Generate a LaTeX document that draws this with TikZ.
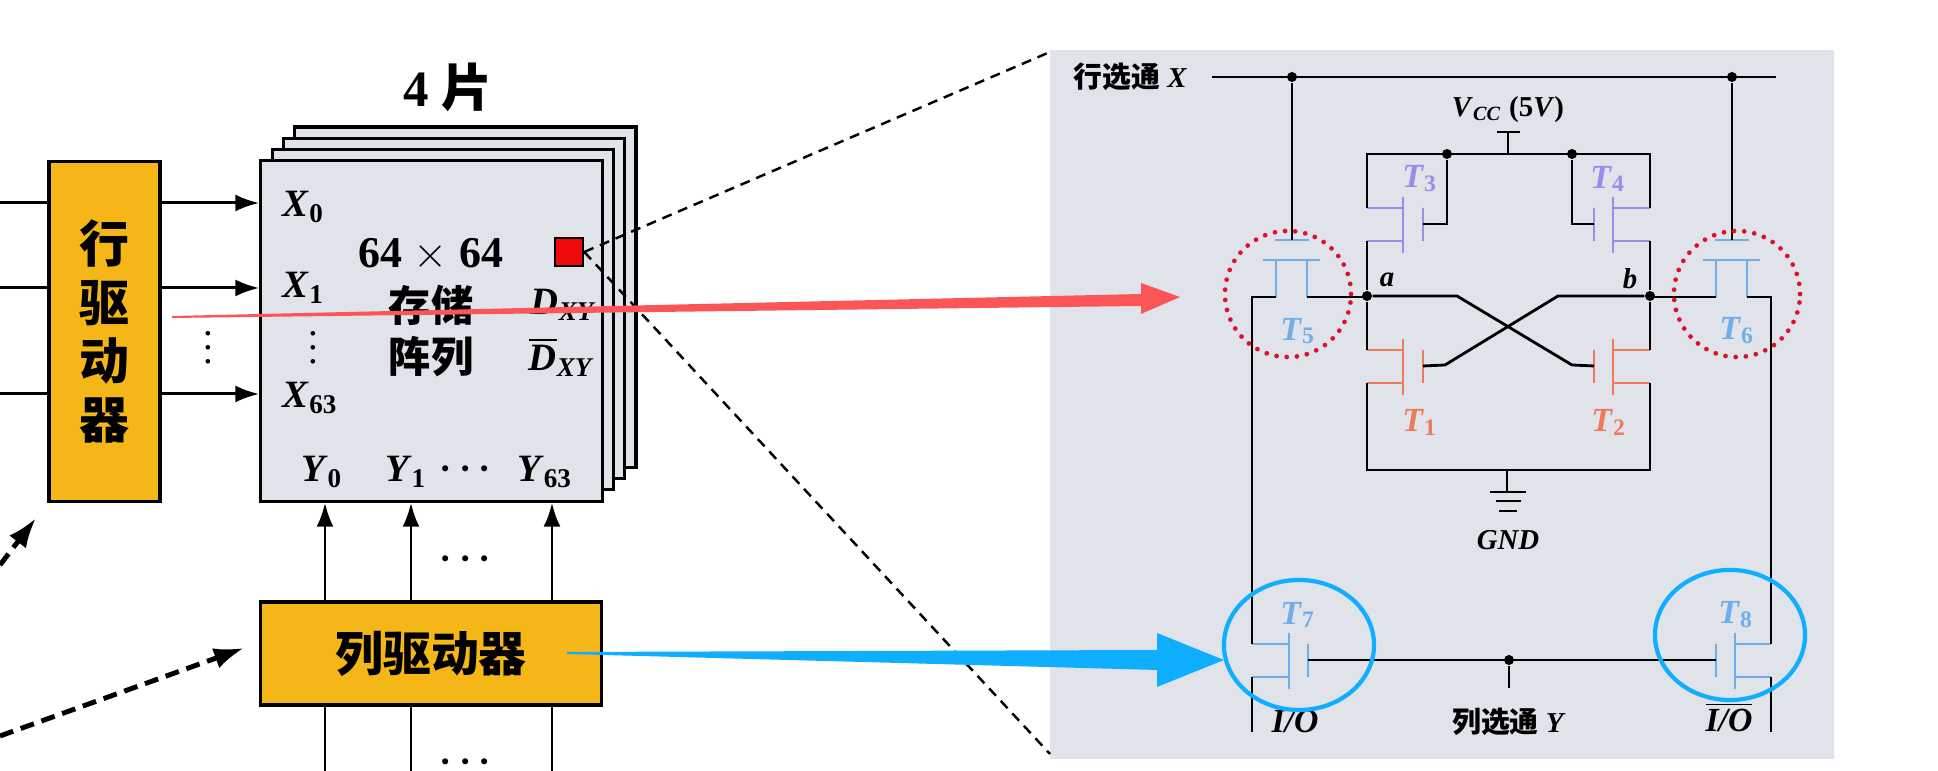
\documentclass[tikz,border=0pt]{standalone}
\usepackage{fix-cm}
\usepackage{amsmath}
\usepackage{fontspec}
\usepackage{tikz}
\usetikzlibrary{arrows.meta,shapes.geometric}
\setmainfont{Liberation Serif}
\newfontfamily\cjk{Noto Sans CJK SC}
\newcommand{\bi}[1]{\textbf{\textit{#1}}}
\newcommand{\lbl}[2]{\bi{#1}$_{\text{\textbf{#2}}}$}
\newcommand{\lbi}[2]{\bi{#1}$_{\text{\bi{#2}}}$}
\definecolor{panelgray}{HTML}{E1E3EA}
\definecolor{drvyellow}{HTML}{F5B718}
\definecolor{redcell}{HTML}{EE0A0A}
\definecolor{arrowred}{HTML}{FC5558}
\definecolor{arrowblue}{HTML}{10AEFF}
\definecolor{ringred}{HTML}{E0102A}
\definecolor{fetpurple}{HTML}{9B8BEA}
\definecolor{fetorange}{HTML}{EF7A5A}
\definecolor{fetblue}{HTML}{6FAEE8}
\tikzset{
	sheetbox/.style = {draw,fill=panelgray,line width=0.9pt,minimum width=3.41cm,minimum height=3.4cm,inner sep=0pt},
	drvbox/.style = {draw,fill=drvyellow,line width=0.9pt,inner sep=0pt,align=center},
	bus/.style = {line width=0.85pt},
	busarrow/.style = {line width=0.85pt,-{Latex[length=2.4mm,width=1.7mm]}},
	selarrow/.style = {line width=1.4pt,dash pattern=on 1.4mm off 0.8mm,-{Latex[length=3mm,width=2.1mm]}},
	zoomline/.style = {line width=0.7pt,dash pattern=on 1mm off 0.7mm},
	wire/.style = {line width=0.8pt},
	fet/.style = {line width=0.8pt},
	jdot/.style = {circle,fill,inner sep=0pt,minimum size=0.1cm},
	redring/.style = {circle,draw=ringred,line width=1.35pt,line cap=round,dash pattern=on 0pt off 2.9pt,minimum size=1.26cm,inner sep=0pt},
	bluering/.style = {ellipse,draw=arrowblue,line width=1.2pt,inner sep=0pt},
	arrtext/.style = {font=\fontsize{11}{13}\selectfont,inner sep=0pt},
	cirtext/.style = {font=\fontsize{8.2}{10}\selectfont,inner sep=0pt},
	iotext/.style = {font=\fontsize{9.6}{11}\selectfont,inner sep=0pt},
	fetlabel/.style = {font=\fontsize{9.6}{12}\selectfont,inner sep=0pt}
}
\begin{document}
\begin{tikzpicture}[x=0.01cm,y=-0.01cm]
	\useasboundingbox (0,0) rectangle (1938,771);
	% left part: drivers and the four sheets
	\foreach \d in {3,2,1}
		\node[sheetbox] (sheet\d) at ({431.5+11.3*\d},{331-11.3*\d}) {};
	\node[sheetbox] (array) at (431.5,331) {};
	\node[drvbox,minimum width=1.11cm,minimum height=3.39cm,font=\cjk\bfseries\fontsize{14.2}{16.6}\selectfont] (rowdrv) at (104.5,331.5) {行\\驱\\动\\器};
	\node[drvbox,minimum width=3.4cm,minimum height=1.03cm,font=\cjk\bfseries\fontsize{13.6}{15}\selectfont] (coldrv) at (431,653.5) {列驱动器};
	\node[font=\fontsize{14.5}{16}\selectfont,inner sep=0pt] (sheets) at (448,87) {\textbf{4} {\cjk\bfseries 片}};
	\foreach \y/\n in {203/0,288/1,394/63} {
		\draw[bus] (0,\y) -- (rowdrv.west |- 0,\y);
		\draw[busarrow] (rowdrv.east |- 0,\y) -- (array.west |- 0,\y);
	}
	\foreach \y/\n in {207/0,288/1,398/63}
		\node[arrtext,anchor=west] (xlab\n) at (282,\y) {\lbl{X}{\n}};
	\foreach \x/\n in {325/0,411/1,552/63} {
		\draw[busarrow] (coldrv.north -| \x,0) -- (array.south -| \x,0);
		\draw[bus] (coldrv.south -| \x,0) -- (\x,771);
	}
	\foreach \x/\n in {322/0,406/1,545/63}
		\node[arrtext] (ylab\n) at (\x,472) {\lbl{Y}{\n}};
	\node[arrtext] (vdotsa) at (208,337) {$\boldsymbol{\vdots}$};
	\node[arrtext] (vdotsb) at (313,337) {$\boldsymbol{\vdots}$};
	\node[arrtext] (cdotsa) at (469,469) {$\boldsymbol{\cdots}$};
	\node[arrtext] (cdotsb) at (469,559) {$\boldsymbol{\cdots}$};
	\node[arrtext] (cdotsc) at (469,762) {$\boldsymbol{\cdots}$};
	\node[font=\fontsize{12.5}{14}\selectfont,inner sep=0pt] (size) at (431,255) {\textbf{64} $\times$ \textbf{64}};
	\node[inner sep=0pt,align=center,font=\cjk\bfseries\fontsize{12}{14.7}\selectfont] (arrlab) at (431,331) {存储\\阵列};
	\node[arrtext] (dxy) at (564,305) {\lbi{D}{XY}};
	\node[arrtext] (dbar) at (562,357) {$\overline{\text{\bi{D}}}_{\text{\bi{XY}}}$};
	\node[draw,fill=redcell,line width=0.7pt,minimum width=0.28cm,minimum height=0.28cm,inner sep=0pt] (cell) at (569,252) {};
	\coordinate (sela) at (0,736);
	\coordinate (selb) at (0,565);
	\draw[selarrow] (sela) -- (244,648);
	\draw[selarrow] (selb) -- (36,518);
	% right part: the memory cell
	\fill[panelgray] (1050,50) rectangle (1834,759);
	\coordinate (pa) at (1050,52);
	\coordinate (pb) at (1050,754);
	\draw[zoomline] (cell.east) -- (pa);
	\draw[zoomline] (cell.east) -- (pb);
	\coordinate (xs) at (1212,77);
	\coordinate (xe) at (1776,77);
	\node[jdot] (jxl) at (1292,77) {};
	\node[jdot] (jxr) at (1732,77) {};
	\node[jdot] (jtl) at (1447,154) {};
	\node[jdot] (jtr) at (1572,154) {};
	\node[jdot] (ja) at (1367,296) {};
	\node[jdot] (jb) at (1650,296) {};
	\node[jdot] (jy) at (1509,660) {};
	% n/gate x/channel x/rail x/top y/colour
	\foreach \n/\g/\c/\s/\y/\col in {3/1423/1403/1367/208/fetpurple,1/1423/1403/1367/350/fetorange,
		4/1594/1613/1650/208/fetpurple,2/1594/1613/1650/350/fetorange,
		7/1308/1289/1252/644/fetblue,8/1716/1735/1771/644/fetblue} {
		\draw[fet,\col] (\c,\y-11) -- (\c,\y+45);
		\draw[fet,\col] (\g,\y) -- (\g,\y+33);
		\draw[fet,\col] (\s,\y) -- (\c,\y);
		\draw[fet,\col] (\s,\y+33) -- (\c,\y+33);
		\coordinate (s\n) at (\s,\y);
		\coordinate (d\n) at (\s,\y+33);
		\coordinate (g\n) at (\g,\y+16);
	}
	\foreach \n/\c in {5/1292,6/1732} {
		\draw[fet,fetblue] (\c-17,240) -- (\c+17,240);
		\draw[fet,fetblue] (\c-29,260) -- (\c+28,260);
		\draw[fet,fetblue] (\c-16,260) -- (\c-16,297);
		\draw[fet,fetblue] (\c+15,260) -- (\c+15,297);
		\coordinate (gt\n) at (\c,240);
		\coordinate (l\n) at (\c-16,297);
		\coordinate (r\n) at (\c+15,297);
	}
	\coordinate (tl) at (1367,154);
	\coordinate (tr) at (1650,154);
	\coordinate (bl) at (1367,470);
	\coordinate (br) at (1650,470);
	\coordinate (vtop) at (1508,132);
	\coordinate (vmid) at (1508,154);
	\coordinate (gmid) at (1507,470);
	\coordinate (gtop) at (1507,492);
	\coordinate (ya) at (1457,296);
	\coordinate (yb) at (1572,365);
	\coordinate (yc) at (1445,365);
	\coordinate (yd) at (1558,296);
	\coordinate (ioa) at (1252,732);
	\coordinate (iob) at (1771,732);
	\coordinate (ystem) at (1509,688);
	\draw[wire] (xs) -- (xe);
	\draw[wire] (jxl) -- (gt5);
	\draw[wire] (jxr) -- (gt6);
	\draw[wire] (s3) -- (tl) -- (tr) -- (s4);
	\draw[wire] (g3) -| (jtl);
	\draw[wire] (g4) -| (jtr);
	\draw[wire] (d3) -- (ja) -- (s1);
	\draw[wire] (d4) -- (jb) -- (s2);
	\draw[wire] (d1) -- (bl) -- (br) -- (d2);
	\draw[wire] (ja) -- (ya) -- (yb) -- (g2);
	\draw[wire] (jb) -- (yd) -- (yc) -- (g1);
	\draw[wire] (r5) -- (r5 -| ja);
	\draw[wire] (l6) -- (l6 -| jb);
	\draw[wire] (l5) -| (s7);
	\draw[wire] (r6) -| (s8);
	\draw[wire] (d7) -- (ioa);
	\draw[wire] (d8) -- (iob);
	\draw[wire] (g7) -- (g8);
	\draw[wire] (jy) -- (ystem);
	% supply and ground
	\draw[wire] (vmid) -- (vtop);
	\draw[wire] (1497,132) -- (1520,132);
	\draw[wire] (gmid) -- (gtop);
	\draw[wire] (1490,492) -- (1526,492);
	\draw[wire] (1496,501) -- (1521,501);
	\draw[wire] (1499,511) -- (1517,511);
	\node[cirtext,anchor=west] (xsel) at (1073,77) {{\cjk\bfseries 行选通} \bi{X}};
	\node[cirtext] (vcc) at (1508,110) {\lbi{V}{CC} \textbf{(5}\bi{V}\textbf{)}};
	\node[cirtext] (gnd) at (1508,540) {\bi{GND}};
	\node[cirtext] (ysel) at (1509,722) {{\cjk\bfseries 列选通} \bi{Y}};
	\node[iotext] (ioleft) at (1295,722) {\bi{I/O}};
	\node[iotext] (ioright) at (1729,717) {$\overline{\text{\bi{I/O}}}$};
	\node[cirtext] (alab) at (1387,280) {\bi{a}};
	\node[cirtext] (blab) at (1630,279) {\bi{b}};
	\foreach \n/\x/\y/\col in {3/1420/179/fetpurple,4/1608/179/fetpurple,1/1420/422/fetorange,2/1609/422/fetorange,
		5/1298/331/fetblue,6/1737/331/fetblue,7/1298/615/fetblue,8/1736/615/fetblue}
		\node[fetlabel,text=\col] (tlab\n) at (\x,\y) {\lbl{T}{\n}};
	\node[redring] (ring5) at (1288,294) {};
	\node[redring] (ring6) at (1737,294) {};
	\node[bluering,minimum width=1.5cm,minimum height=1.3cm] (ring7) at (1299,645) {};
	\node[bluering,minimum width=1.5cm,minimum height=1.3cm] (ring8) at (1730,635) {};
	% the two big pointers
	\fill[arrowred] (172,316) -- (1141,294) -- (1141,283) -- (1180,297) -- (1141,314) -- (1141,306) -- (172,318) -- cycle;
	\fill[arrowblue] (567,652) -- (1157,650) -- (1157,633) -- (1224,660) -- (1157,687) -- (1157,670) -- (567,654) -- cycle;
\end{tikzpicture}
\end{document}
